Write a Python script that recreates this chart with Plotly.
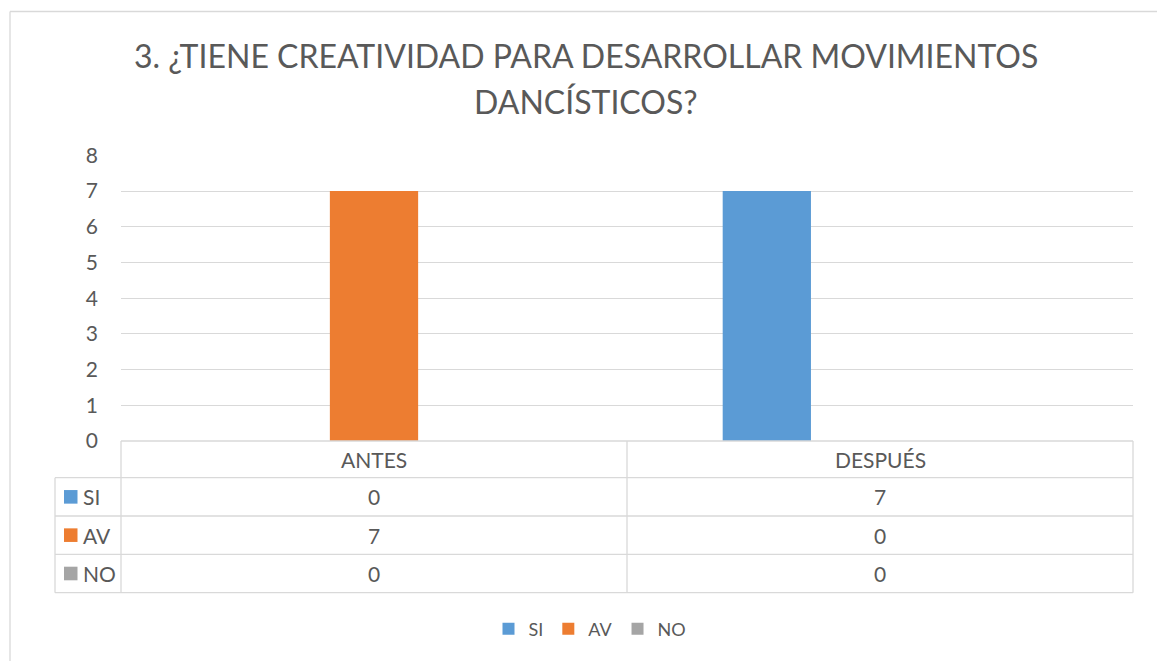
import plotly.graph_objects as go

# ---- data ----
categories = ["ANTES", "DESPUÉS"]
series_names = ["SI", "AV", "NO"]
si_values = [0, 7]
av_values = [7, 0]
no_values = [0, 0]
y_ticks = [0, 1, 2, 3, 4, 5, 6, 7, 8]
title_lines = ["3. ¿TIENE CREATIVIDAD PARA DESARROLLAR MOVIMIENTOS", "DANCÍSTICOS?"]

series_values = [si_values, av_values, no_values]
colors = ["#5B9BD5", "#ED7D31", "#A5A5A5"]

W, H = 1157, 661
def fx(x):
    return x / W
def fy(y):
    return 1 - y / H

TEXT = "#595959"
GRID = "#D9D9D9"
FONT = "Lato"

# plot geometry (pixels)
X0, X1 = 121, 1133
Y_TOP, Y_ZERO = 155.3, 441.0
KEY_X0 = 55
ROW_Y = [441.0, 477.7, 516.0, 554.3, 592.7]

fig = go.Figure()
for name, vals, col in zip(series_names, series_values, colors):
    fig.add_trace(go.Bar(x=categories, y=vals, name=name,
                         marker=dict(color=col, line=dict(width=0))))

shapes = []
annotations = []
line_style = dict(color=GRID, width=1.3)

# outer chart border (left and top)
shapes.append(dict(type="line", xref="paper", yref="paper",
                   x0=fx(10), x1=fx(1160), y0=fy(11.5), y1=fy(11.5), line=line_style))
shapes.append(dict(type="line", xref="paper", yref="paper",
                   x0=fx(10), x1=fx(10), y0=fy(11.5), y1=fy(670), line=line_style))

# data table lines
ncat = len(categories)
cat_w = (X1 - X0) / ncat
vx = [X0 + i * cat_w for i in range(ncat + 1)]
shapes.append(dict(type="line", xref="paper", yref="paper",
                   x0=fx(X0), x1=fx(X1), y0=fy(ROW_Y[0]), y1=fy(ROW_Y[0]), line=line_style))
for yy in ROW_Y[1:]:
    shapes.append(dict(type="line", xref="paper", yref="paper",
                       x0=fx(KEY_X0), x1=fx(X1), y0=fy(yy), y1=fy(yy), line=line_style))
for xx in vx:
    shapes.append(dict(type="line", xref="paper", yref="paper",
                       x0=fx(xx), x1=fx(xx), y0=fy(ROW_Y[0]), y1=fy(ROW_Y[-1]), line=line_style))
shapes.append(dict(type="line", xref="paper", yref="paper",
                   x0=fx(KEY_X0), x1=fx(KEY_X0), y0=fy(ROW_Y[1]), y1=fy(ROW_Y[-1]), line=line_style))

cell_font = dict(family=FONT, size=21, color=TEXT)
for i, cat in enumerate(categories):
    cx = (vx[i] + vx[i + 1]) / 2
    cy = (ROW_Y[0] + ROW_Y[1]) / 2
    annotations.append(dict(xref="paper", yref="paper", x=fx(cx), y=fy(cy),
                            text=cat, showarrow=False, font=cell_font,
                            xanchor="center", yanchor="middle"))
for r, (name, vals, col) in enumerate(zip(series_names, series_values, colors)):
    ya, yb = ROW_Y[r + 1], ROW_Y[r + 2]
    cy = (ya + yb) / 2
    shapes.append(dict(type="rect", xref="paper", yref="paper",
                       x0=fx(64), x1=fx(77.5), y0=fy(cy - 6.8), y1=fy(cy + 6.8),
                       fillcolor=col, line=dict(width=0)))
    annotations.append(dict(xref="paper", yref="paper", x=fx(81.5), y=fy(cy),
                            text=name, showarrow=False, font=cell_font,
                            xanchor="left", yanchor="middle"))
    for i, v in enumerate(vals):
        cx = (vx[i] + vx[i + 1]) / 2
        annotations.append(dict(xref="paper", yref="paper", x=fx(cx), y=fy(cy),
                                text=str(v), showarrow=False, font=cell_font,
                                xanchor="center", yanchor="middle"))

title_font = dict(family=FONT, size=32, color=TEXT)
for k, t in enumerate(title_lines):
    annotations.append(dict(xref="paper", yref="paper", x=fx(586), y=fy(55 + 46.3 * k),
                            text=t, showarrow=False, font=title_font,
                            xanchor="center", yanchor="middle"))

fig.update_layout(
    width=W, height=H, autosize=False,
    margin=dict(l=0, r=0, t=0, b=0, pad=0, autoexpand=False),
    paper_bgcolor="white", plot_bgcolor="white",
    barmode="group", bargap=0.329, bargroupgap=0.22,
    font=dict(family=FONT, color=TEXT),
    xaxis=dict(domain=[fx(X0), fx(X1)], showticklabels=False, showgrid=False,
               zeroline=False, showline=False, type="category", automargin=False),
    yaxis=dict(domain=[fy(Y_ZERO), fy(Y_TOP)], range=[0, 8], tickvals=y_ticks,
               showgrid=True, gridcolor=GRID, gridwidth=1.3, zeroline=False,
               showline=False, ticks="", ticklabelstandoff=22, automargin=False,
               tickfont=dict(family=FONT, size=21, color=TEXT)),
    legend=dict(orientation="h", x=fx(590), xanchor="center", y=fy(629), yanchor="middle",
                font=dict(family=FONT, size=18, color=TEXT), traceorder="normal",
                itemclick=False),
    shapes=shapes, annotations=annotations,
)

fig.write_html("out.html", config={"displayModeBar": False},
               post_script="document.body.style.margin='0';")
